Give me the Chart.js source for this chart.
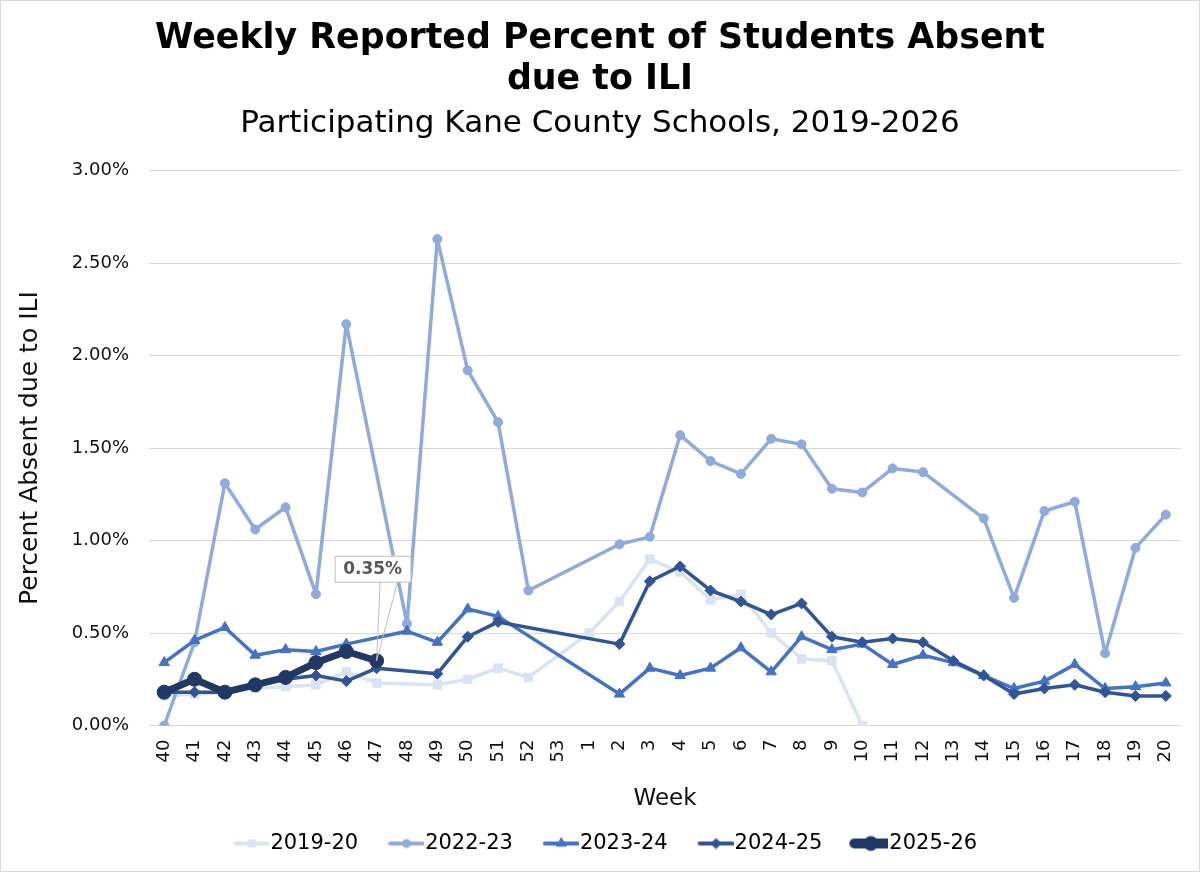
<!DOCTYPE html>
<html>
<head>
<meta charset="utf-8">
<script src="https://cdn.jsdelivr.net/npm/chart.js@4.4.1/dist/chart.umd.min.js"></script>
<style>
  html, body { margin: 0; padding: 0; background: #fff; }
  #wrap { width: 1200px; height: 872px; }
</style>
</head>
<body>
<div id="wrap"><canvas id="myChart" width="1200" height="872"></canvas></div>
<script>
// week numbers, school year runs week 40 -> week 20
const weeks = ['40','41','42','43','44','45','46','47','48','49','50','51','52','53',
               '1','2','3','4','5','6','7','8','9','10','11','12','13','14','15','16','17','18','19','20'];

// percent absent due to ILI, per season (null = no report that week)
const season1920 = [0.16, 0.17, 0.18, 0.20, 0.21, 0.22, 0.29, 0.23, null, 0.22, 0.25, 0.31, 0.26, null,
                    0.50, 0.67, 0.90, 0.83, 0.68, 0.71, 0.50, 0.36, 0.35, 0.00];
const season2223 = [0.00, 0.45, 1.31, 1.06, 1.18, 0.71, 2.17, null, 0.55, 2.63, 1.92, 1.64, 0.73, null,
                    null, 0.98, 1.02, 1.57, 1.43, 1.36, 1.55, 1.52, 1.28, 1.26, 1.39, 1.37, null, 1.12,
                    0.69, 1.16, 1.21, 0.39, 0.96, 1.14];
const season2324 = [0.34, 0.46, 0.53, 0.38, 0.41, 0.40, 0.44, null, 0.51, 0.45, 0.63, 0.59, null, null,
                    null, 0.17, 0.31, 0.27, 0.31, 0.42, 0.29, 0.48, 0.41, 0.44, 0.33, 0.38, 0.34, 0.27,
                    0.20, 0.24, 0.33, 0.20, 0.21, 0.23];
const season2425 = [0.18, 0.18, 0.18, 0.22, 0.25, 0.27, 0.24, 0.31, null, 0.28, 0.48, 0.56, null, null,
                    null, 0.44, 0.78, 0.86, 0.73, 0.67, 0.60, 0.66, 0.48, 0.45, 0.47, 0.45, 0.35, 0.27,
                    0.17, 0.20, 0.22, 0.18, 0.16, 0.16];
const season2526 = [0.18, 0.25, 0.18, 0.22, 0.26, 0.34, 0.40, 0.35];

const seasonNames = ['2019-20', '2022-23', '2023-24', '2024-25', '2025-26'];
const yTicks = [0, 0.5, 1.0, 1.5, 2.0, 2.5, 3.0];

const FONT = "'DejaVu Sans', Verdana, sans-serif";

const styles = [
  { color: '#dae3f3', width: 3.5, point: 'rect',     radius: 6,   legendWidth: 4, legendRadius: 5 },
  { color: '#8faadc', width: 3.5, point: 'circle',   radius: 4.5, legendWidth: 4, legendRadius: 4 },
  { color: '#4472c4', width: 3.5, point: 'triangle', radius: 6,   legendWidth: 4, legendRadius: 5.5 },
  { color: '#2f5597', width: 3.5, point: 'rectRot',  radius: 5.5, legendWidth: 4, legendRadius: 5 },
  { color: '#203864', width: 7,   point: 'circle',   radius: 7,   legendWidth: 10, legendRadius: 7 }
];
const seriesData = [season1920, season2223, season2324, season2425, season2526];

// small line+marker icon for the legend
function legendIcon(st) {
  const c = document.createElement('canvas');
  c.width = 56; c.height = 20;
  const g = c.getContext('2d');
  g.strokeStyle = st.color;
  g.fillStyle = st.color;
  g.lineCap = 'round';
  g.lineWidth = st.legendWidth;
  g.beginPath();
  g.moveTo(c.width - 34, 10);
  g.lineTo(c.width - 1.5, 10);
  g.stroke();
  g.lineWidth = 1;
  Chart.helpers.drawPoint(g, { pointStyle: st.point, radius: st.legendRadius, rotation: 0, borderWidth: 1 }, c.width - 17.5, 10);
  return c;
}

const datasets = seriesData.map(function (d, i) {
  const st = styles[i];
  return {
    label: seasonNames[i],
    data: d,
    borderColor: st.color,
    backgroundColor: st.color,
    borderWidth: st.width,
    borderJoinStyle: 'round',
    borderCapStyle: 'round',
    pointStyle: st.point,
    pointRadius: st.radius,
    pointBorderWidth: 1,
    pointBorderColor: st.color,
    pointBackgroundColor: st.color,
    spanGaps: true,
    tension: 0,
    order: 4 - i,
    legendIcon: legendIcon(st)
  };
});

// white background + thin outer frame
const frame = {
  id: 'frame',
  beforeDraw(chart) {
    const ctx = chart.ctx;
    ctx.save();
    ctx.fillStyle = '#fff';
    ctx.fillRect(0, 0, chart.width, chart.height);
    ctx.restore();
  },
  afterDraw(chart) {
    const ctx = chart.ctx;
    ctx.save();
    ctx.strokeStyle = '#d9d9d9';
    ctx.lineWidth = 1;
    ctx.strokeRect(0.5, 0.5, chart.width - 1, chart.height - 1);
    ctx.restore();
  }
};

// data callout on the latest 2025-26 point
const callout = {
  id: 'callout',
  afterDatasetsDraw(chart) {
    const idx = season2526.length - 1;
    const pt = chart.getDatasetMeta(4).data[idx];
    if (!pt) return;
    const px = pt.x, py = pt.y;
    const left = px - 42, right = px + 34, top = py - 105, bottom = py - 79;
    const ctx = chart.ctx;
    ctx.save();
    ctx.strokeStyle = '#bfbfbf';
    ctx.lineWidth = 1;
    ctx.beginPath();
    ctx.moveTo(px + 3.5, bottom);
    ctx.lineTo(px, py);
    ctx.lineTo(px + 21, bottom);
    ctx.stroke();
    ctx.fillStyle = '#fff';
    ctx.fillRect(left, top, right - left, bottom - top);
    ctx.strokeRect(left + 0.5, top + 0.5, right - left, bottom - top);
    ctx.fillStyle = '#595959';
    ctx.font = 'bold 17px ' + FONT;
    ctx.textAlign = 'center';
    ctx.textBaseline = 'middle';
    ctx.fillText(season2526[idx].toFixed(2) + '%', (left + right) / 2, (top + bottom) / 2 + 1);
    ctx.restore();
  }
};

const ctx = document.getElementById('myChart').getContext('2d');
const myChart = new Chart(ctx, {
  type: 'line',
  data: { labels: weeks, datasets: datasets },
  plugins: [frame, callout],
  options: {
    responsive: false,
    animation: false,
    devicePixelRatio: 1,
    layout: { padding: { top: 0, left: 8, right: 8, bottom: 8 } },
    plugins: {
      tooltip: { enabled: false },
      title: {
        display: true,
        text: ['Weekly Reported Percent of Students Absent', 'due to ILI'],
        color: '#000',
        font: { family: FONT, size: 34.8, weight: 'bold', lineHeight: 1.17 },
        padding: { top: 19, bottom: 0 }
      },
      subtitle: {
        display: true,
        text: 'Participating Kane County Schools, 2019-2026',
        color: '#000',
        font: { family: FONT, size: 31, lineHeight: 1.2 },
        padding: { top: 5, bottom: 28 }
      },
      legend: {
        position: 'bottom',
        labels: {
          usePointStyle: true,
          pointStyleWidth: 37,
          boxHeight: 20,
          padding: 19.5,
          color: '#111',
          font: { family: FONT, size: 21 },
          generateLabels(chart) {
            return chart.data.datasets.map(function (ds, i) {
              return {
                text: ds.label,
                fillStyle: ds.borderColor,
                strokeStyle: ds.borderColor,
                lineWidth: 0,
                pointStyle: ds.legendIcon,
                hidden: false,
                datasetIndex: i
              };
            });
          }
        }
      }
    },
    scales: {
      x: {
        offset: true,
        grid: { display: false, drawTicks: false },
        border: { display: false },
        ticks: {
          autoSkip: false,
          minRotation: 90,
          maxRotation: 90,
          padding: 14,
          color: '#111',
          font: { family: FONT, size: 18 }
        },
        title: {
          display: true,
          text: 'Week',
          color: '#111',
          font: { family: FONT, size: 23, lineHeight: 1.2 },
          padding: { top: 0, bottom: 1 }
        },
        afterFit(scale) {
          scale.height = 88;
          scale.paddingRight = 19;
        }
      },
      y: {
        min: 0,
        max: 3,
        afterBuildTicks(scale) {
          scale.ticks = yTicks.map(function (v) { return { value: v }; });
        },
        grid: { color: '#d9d9d9', lineWidth: 1, drawTicks: false },
        border: { display: false },
        ticks: {
          padding: 20,
          color: '#111',
          font: { family: FONT, size: 18 },
          callback(value) { return value.toFixed(2) + '%'; }
        },
        title: {
          display: true,
          text: 'Percent Absent due to ILI',
          color: '#111',
          font: { family: FONT, size: 25, lineHeight: 1.2 },
          padding: { top: 7, bottom: 0 }
        },
        afterFit(scale) { scale.width = 141; }
      }
    }
  }
});
</script>
</body>
</html>
